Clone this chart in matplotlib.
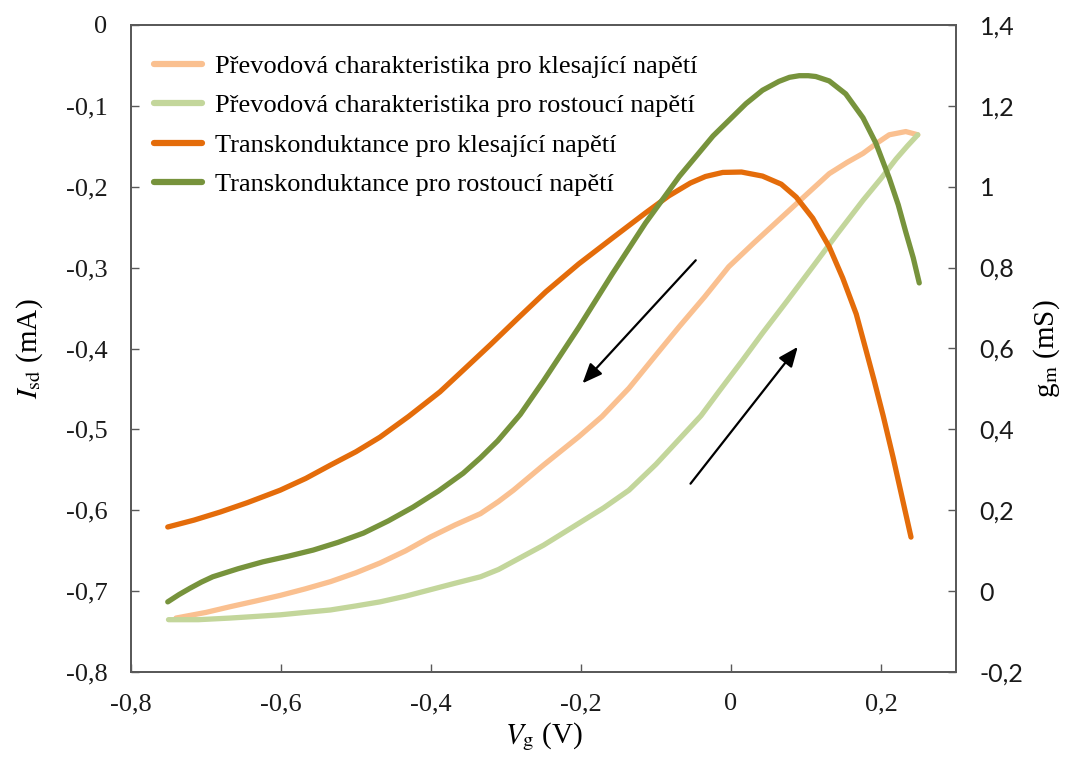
import matplotlib
matplotlib.use("Agg")
import matplotlib.pyplot as plt
from matplotlib.ticker import FuncFormatter, MultipleLocator

# Transfer characteristic, decreasing gate voltage (left axis, mA)
vg_transfer_desc = [-0.740, -0.700, -0.668, -0.634, -0.601, -0.568, -0.534, -0.500, -0.468,
                    -0.434, -0.401, -0.368, -0.334, -0.310, -0.290, -0.250, -0.203, -0.172,
                    -0.136, -0.100, -0.069, -0.035, -0.003, 0.030, 0.064, 0.098, 0.131,
                    0.155, 0.176, 0.195, 0.211, 0.233, 0.249]
isd_desc = [-0.733, -0.726, -0.719, -0.712, -0.705, -0.697, -0.688, -0.677, -0.665,
            -0.650, -0.633, -0.618, -0.604, -0.589, -0.575, -0.544, -0.509, -0.484,
            -0.449, -0.408, -0.373, -0.336, -0.299, -0.270, -0.241, -0.212, -0.184,
            -0.170, -0.159, -0.146, -0.136, -0.132, -0.136]

# Transfer characteristic, increasing gate voltage (left axis, mA)
vg_transfer_asc = [-0.750, -0.710, -0.668, -0.634, -0.601, -0.568, -0.534, -0.500, -0.468,
                   -0.434, -0.401, -0.368, -0.334, -0.310, -0.290, -0.250, -0.203, -0.170,
                   -0.136, -0.100, -0.069, -0.040, -0.016, 0.015, 0.042, 0.075, 0.109,
                   0.142, 0.176, 0.200, 0.220, 0.235, 0.249]
isd_asc = [-0.735, -0.735, -0.733, -0.731, -0.729, -0.726, -0.723, -0.718, -0.713,
           -0.706, -0.698, -0.690, -0.682, -0.673, -0.663, -0.643, -0.616, -0.597,
           -0.575, -0.543, -0.512, -0.483, -0.453, -0.415, -0.381, -0.341, -0.299,
           -0.258, -0.217, -0.190, -0.166, -0.150, -0.136]

# Transconductance, decreasing gate voltage (right axis, mS)
vg_gm_desc = [-0.751, -0.716, -0.681, -0.645, -0.601, -0.567, -0.534, -0.500, -0.468,
              -0.430, -0.388, -0.355, -0.321, -0.284, -0.247, -0.203,
              -0.158, -0.114, -0.083, -0.054, -0.034, -0.011, 0.014, 0.042, 0.067,
              0.087, 0.109, 0.131, 0.149, 0.167, 0.180, 0.191, 0.203, 0.216, 0.228,
              0.240]
gm_desc = [0.159, 0.176, 0.196, 0.219, 0.250, 0.279, 0.312, 0.345, 0.381,
           0.432, 0.493, 0.550, 0.609, 0.675, 0.740, 0.809,
           0.873, 0.935, 0.977, 1.009, 1.025, 1.035, 1.036, 1.026, 1.006,
           0.974, 0.922, 0.851, 0.774, 0.685, 0.596, 0.520, 0.433, 0.332, 0.233,
           0.134]

# Transconductance, increasing gate voltage (right axis, mS)
vg_gm_asc = [-0.751, -0.736, -0.721, -0.706, -0.691, -0.657, -0.624, -0.590, -0.557,
             -0.524, -0.490, -0.457, -0.424, -0.390, -0.357, -0.334, -0.311, -0.281,
             -0.250, -0.203, -0.158, -0.114, -0.069, -0.024, 0.020, 0.042, 0.064,
             0.078, 0.091, 0.103, 0.113, 0.131, 0.153, 0.176, 0.193, 0.211, 0.223,
             0.233, 0.243, 0.251]
gm_asc = [-0.026, -0.008, 0.008, 0.023, 0.036, 0.056, 0.073, 0.087, 0.102,
          0.121, 0.144, 0.174, 0.208, 0.248, 0.292, 0.330, 0.372, 0.437,
          0.520, 0.652, 0.785, 0.910, 1.025, 1.125, 1.205, 1.238, 1.260,
          1.270, 1.274, 1.274, 1.272, 1.261, 1.229, 1.170, 1.108, 1.021, 0.955,
          0.888, 0.824, 0.762]

labels = ["Převodová charakteristika pro klesající napětí",
          "Převodová charakteristika pro rostoucí napětí",
          "Transkonduktance pro klesající napětí",
          "Transkonduktance pro rostoucí napětí"]

# Sweep direction arrows: (tail, head) in (V, mA)
arrow_down = ((-0.047, -0.291), (-0.198, -0.443))
arrow_up = ((-0.054, -0.567), (0.089, -0.398))

SERIF = "Liberation Serif"
SANS = "Lato"
SPINE = "#595959"
plt.rcParams["font.family"] = SERIF
plt.rcParams["mathtext.fontset"] = "stix"

fig = plt.figure(figsize=(10.68, 7.65), dpi=100)
ax = fig.add_axes([131 / 1068, 1 - 672.3 / 765, (956 - 131) / 1068, (672.3 - 24.7) / 765])
ax2 = ax.twinx()

l1, = ax.plot(vg_transfer_desc, isd_desc, color="#FAC090", lw=3.8, solid_capstyle="round")
l2, = ax.plot(vg_transfer_asc, isd_asc, color="#C3D69B", lw=3.8, solid_capstyle="round")
l3, = ax2.plot(vg_gm_desc, gm_desc, color="#E46C0A", lw=3.8, solid_capstyle="round")
l4, = ax2.plot(vg_gm_asc, gm_asc, color="#77933C", lw=3.8, solid_capstyle="round")

for tail, head in (arrow_down, arrow_up):
    ax.annotate("", xy=head, xytext=tail, xycoords="data",
                arrowprops=dict(arrowstyle="-|>,head_length=0.6,head_width=0.25",
                                mutation_scale=20, color="black", lw=1.6,
                                shrinkA=0, shrinkB=0))

ax.set_xlim(-0.8, 0.3)
ax.set_ylim(-0.8, 0.0)
ax2.set_ylim(-0.2, 1.4)
ax.xaxis.set_major_locator(MultipleLocator(0.2))
ax.yaxis.set_major_locator(MultipleLocator(0.1))
ax2.yaxis.set_major_locator(MultipleLocator(0.2))


def comma(v, pos):
    v = round(v, 3)
    if abs(v) < 1e-9:
        v = 0.0
    return f"{v:g}".replace(".", ",")


fmt = FuncFormatter(comma)
ax.xaxis.set_major_formatter(fmt)
ax.yaxis.set_major_formatter(fmt)
ax2.yaxis.set_major_formatter(fmt)

for a in (ax, ax2):
    for s in a.spines.values():
        s.set_color(SPINE)
        s.set_linewidth(1.3)

ax.tick_params(axis="y", direction="in", length=6, width=1.0, color=SPINE, pad=17,
               labelsize=19, labelcolor="#1a1a1a")
ax.tick_params(axis="x", direction="in", length=6, width=1.0, color=SPINE, pad=15,
               labelsize=19, labelcolor="#1a1a1a")
ax2.tick_params(axis="y", direction="in", length=6, width=1.0, color=SPINE, pad=17,
                labelsize=18, labelcolor="#1a1a1a")

ax.set_ylabel(r"$I_{\rm sd}$ (mA)", fontsize=21, fontfamily=SERIF, labelpad=15)
ax.set_xlabel(r"$V_{\rm g}$ (V)", fontsize=21, fontfamily=SERIF, labelpad=4)
ax2.set_ylabel(r"g$_{\rm m}$ (mS)", fontsize=21, fontfamily=SERIF, labelpad=6)

leg = ax2.legend([l1, l2, l3, l4], labels, loc="upper left",
                 bbox_to_anchor=(23 / 825, 1 - 30 / 647.6), frameon=False,
                 prop={"family": SERIF, "size": 19}, handlelength=1.8,
                 handletextpad=0.5, labelspacing=0.6, borderpad=0, borderaxespad=0)
for h in leg.get_lines():
    h.set_linewidth(4.5)

# Tick label families: serif on the left and bottom, sans on the right
fig.canvas.draw()
for t in ax.get_xticklabels() + ax.get_yticklabels():
    t.set_fontfamily(SERIF)
for t in ax2.get_yticklabels():
    t.set_fontfamily(SANS)

fig.savefig("out.png", dpi=100)
